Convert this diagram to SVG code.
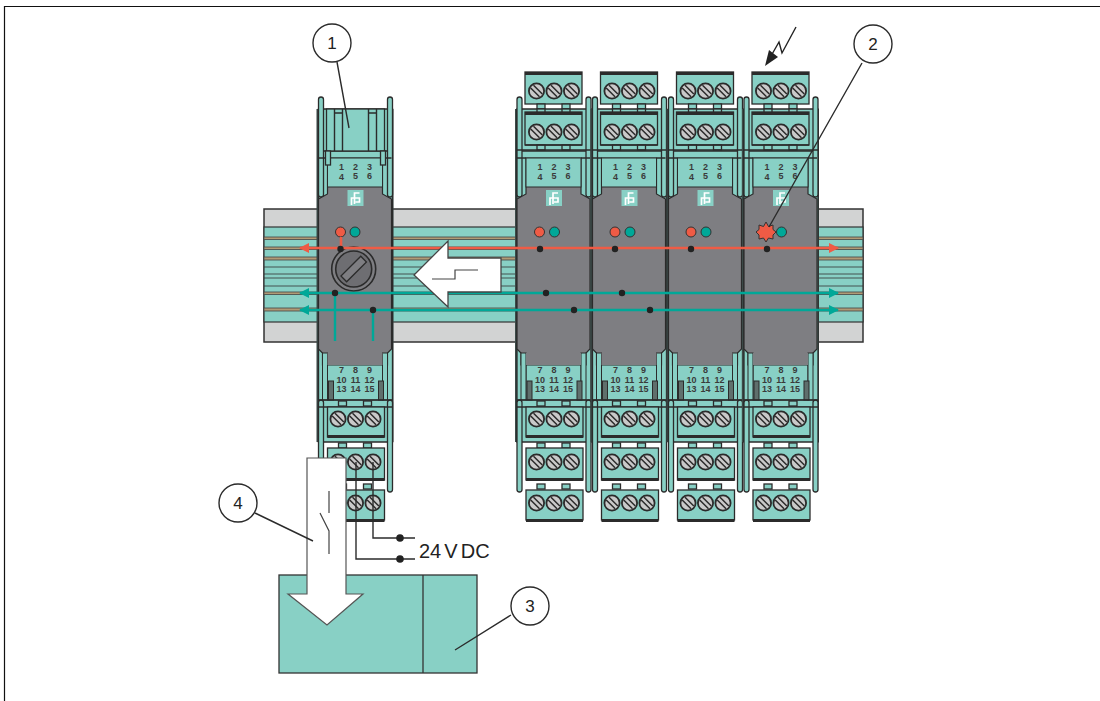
<svg xmlns="http://www.w3.org/2000/svg" width="1100" height="701" viewBox="0 0 1100 701">
<style>
.t{fill:#88d0c5;stroke:#2b2b2b;stroke-width:1.3}
.d{fill:#2b2b2b}
.e{fill:#3c4a48}
.l{fill:none;stroke:#2b2b2b;stroke-width:1.4}
.n{font-family:"Liberation Sans",Arial,sans-serif;font-size:9px;font-weight:700;fill:#3a3a3a;text-anchor:middle}
.c{fill:#fff;stroke:#2b2b2b;stroke-width:1.4}
.cn{font-family:"Liberation Sans",Arial,sans-serif;font-size:17px;fill:#222;text-anchor:middle}
.rr{fill:#88d0c5;stroke:#333;stroke-width:1.2}
.br{fill:#b09a76;stroke:#444;stroke-width:.8}
.red{stroke:#ef5b45;stroke-width:2.6;fill:none}
.gr{stroke:#00a898;stroke-width:2.4;fill:none}
.dot{fill:#222}
.sc{fill:#c9c9c9;stroke:#2b2b2b;stroke-width:1.8}
.sl{stroke:#2b2b2b;stroke-width:1.4;fill:none}
</style>
<defs>
<g id="screw">
<circle r="7.600" class="sc"/>
<path d="M-5.800-3 3 5.800M-3-5.800 5.800 3" fill="none" stroke="#2b2b2b" stroke-width="1.500"/>
</g>
<g id="tabs">
<rect x="-17" y="0" width="8" height="5" class="t"/>
<rect x="8" y="0" width="8" height="5" class="t"/>
</g>
<g id="logo">
<rect x="-8" y="0" width="16" height="16" fill="#88d0c5"/>
<path d="M-1 14V3H4M-4 15V8H4V12H0" fill="none" stroke="#fff" stroke-width="1.700"/>
</g>
<marker id="ar" viewBox="0 0 10 10" refX="9" refY="5" markerWidth="10" markerHeight="10" markerUnits="userSpaceOnUse" orient="auto-start-reverse"><path d="M0 0 10 5 0 10Z" fill="#ef5b45"/></marker>
<marker id="ag" viewBox="0 0 10 10" refX="9" refY="5" markerWidth="10" markerHeight="10" markerUnits="userSpaceOnUse" orient="auto-start-reverse"><path d="M0 0 10 5 0 10Z" fill="#00a898"/></marker>
<g id="body">
<rect x="-39" y="109" width="2" height="333" class="e"/>
<rect x="36" y="109" width="2" height="333" class="e"/>
<path d="M-37 109H37V442H-37Z" class="t"/>
<rect x="-37" y="97" width="5" height="100" rx="2.500" class="t"/>
<rect x="32" y="97" width="5" height="100" rx="2.500" class="t"/>
<rect x="-37" y="400" width="5" height="92" rx="2.500" class="t"/>
<rect x="32" y="400" width="5" height="92" rx="2.500" class="t"/>
<path d="M-28 158H27V194L36 199V349L32 353V365H-33V353L-37 349V199L-28 194Z" fill="#7e7e82" stroke="#2b2b2b" stroke-width="1.200"/>
<rect x="-28" y="158" width="55" height="29" fill="#88d0c5" stroke="#2b2b2b" stroke-width="1"/>
<path class="l" d="M-32 151H32M-37 158H-28M27 158H36"/>
<rect x="-28" y="365" width="55" height="35" fill="#88d0c5" stroke="#2b2b2b" stroke-width="1"/>
<rect x="-33" y="353" width="5" height="47" fill="#88d0c5" stroke="#2b2b2b" stroke-width="1"/>
<rect x="27" y="353" width="5" height="47" fill="#88d0c5" stroke="#2b2b2b" stroke-width="1"/>
<path d="M-33 353H-28V365H27V353H32" fill="#7e7e82"/>
<rect x="-27" y="381" width="5" height="19" fill="#5f6f6c" stroke="#2b2b2b"/>
<rect x="23" y="381" width="5" height="19" fill="#5f6f6c" stroke="#2b2b2b"/>
<g class="n">
<text x="-14" y="170">1</text><text x="0" y="170">2</text><text x="14" y="170">3</text>
<text x="-14" y="180">4</text><text x="0" y="179">5</text><text x="14" y="179">6</text>
<text x="-14" y="373">7</text><text x="0" y="373">8</text><text x="14" y="373">9</text>
<text x="-14" y="383">10</text><text x="0" y="383">11</text><text x="14" y="383">12</text>
<text x="-14" y="392">13</text><text x="0" y="392">14</text><text x="14" y="392">15</text>
</g>
<use href="#logo" y="190"/>
<path class="l" d="M-37 400H37M-37 407H37"/>
<use href="#tabs" y="401"/>
<rect x="-28" y="407" width="57" height="30" class="t"/>
<rect x="-28" y="435" width="57" height="3" class="d"/>
<use href="#screw" x="-17.500" y="419"/><use href="#screw" y="419"/><use href="#screw" x="17.500" y="419"/>
<use href="#tabs" y="443"/>
<rect x="-28" y="448" width="57" height="32" class="t"/>
<rect x="-28" y="478" width="57" height="3" class="d"/>
<use href="#screw" x="-17.500" y="462"/><use href="#screw" y="462"/><use href="#screw" x="17.500" y="462"/>
</g>
<g id="upper">
<use href="#tabs" y="109"/>
<rect x="-29" y="112" width="57" height="33" class="t"/>
<rect x="-29" y="112" width="57" height="3" class="d"/>
<use href="#screw" x="-17.500" y="132"/><use href="#screw" y="132"/><use href="#screw" x="17.500" y="132"/>
<use href="#tabs" y="145"/>
<path class="l" d="M-29 145H28M-37 150H37"/>
</g>
<g id="cap">
<rect x="-29" y="72" width="57" height="32" class="t"/>
<rect x="-29" y="72" width="57" height="3" class="d"/>
<use href="#screw" x="-17.500" y="91"/><use href="#screw" y="91"/><use href="#screw" x="17.500" y="91"/>
<use href="#tabs" y="104"/>
</g>
<g id="bottom">
<use href="#tabs" y="484"/>
<rect x="-28" y="490" width="57" height="30" class="t"/>
<rect x="-28" y="519" width="57" height="3" class="d"/>
<use href="#screw" x="-17.500" y="503"/><use href="#screw" y="503"/><use href="#screw" x="17.500" y="503"/>
</g>
</defs>
<rect width="1100" height="701" fill="#fff"/>
<path d="M4.500 701V6.500H1100" fill="none" stroke="#111" stroke-width="1.200"/>
<g id="rail">
<rect x="264" y="209" width="599" height="133" fill="#d2d3d3" stroke="#333" stroke-width="1.500"/>
<rect x="264" y="227" width="599" height="95" class="rr"/>
<rect x="264" y="237" width="599" height="2.500" class="br"/>
<rect x="264" y="247" width="599" height="2.500" class="br"/>
<rect x="264" y="257" width="599" height="3" class="br"/>
<path d="M264 267H863M264 274H863M264 278H863M264 286H863" stroke="#333" stroke-width=".8"/>
<rect x="264" y="292" width="599" height="2.500" class="br"/>
<rect x="264" y="308" width="599" height="3" class="br"/>
</g>
<g id="module-1">
<g transform="translate(355.500 0)">
<use href="#body"/>
<rect x="-29" y="109" width="58" height="42" class="t"/>
<path class="l" d="M-21 109V151M-13 109V151M13 109V151M21 151V109M-21 113H-13M13 113H21"/>
<rect x="-30" y="151" width="5" height="14" class="t"/><rect x="25" y="151" width="5" height="14" class="t"/>
<use href="#bottom"/>
</g>
<circle cx="340.500" cy="232" r="5" fill="#ef5b45" stroke="#333"/>
<circle cx="355" cy="232" r="5" fill="#00a898" stroke="#333"/>
<circle cx="353.700" cy="269" r="22" fill="#7e7e82" stroke="#2b2b2b" stroke-width="1.600"/>
<circle cx="353.700" cy="269" r="18" fill="#6e6e72" stroke="#2b2b2b" stroke-width="1.600"/>
<rect x="339.700" y="265" width="28" height="8" fill="#7e7e82" stroke="#2b2b2b" stroke-width="1.300" transform="rotate(-45 353.700 269)"/>
</g>
<g id="module-2" transform="translate(554 0)"><use href="#cap"/><use href="#body"/><use href="#upper"/><use href="#bottom"/></g>
<g id="module-3" transform="translate(629.500 0)"><use href="#cap"/><use href="#body"/><use href="#upper"/><use href="#bottom"/></g>
<g id="module-4" transform="translate(705.500 0)"><use href="#cap"/><use href="#body"/><use href="#upper"/><use href="#bottom"/></g>
<g id="module-5" transform="translate(781 0)"><use href="#cap"/><use href="#body"/><use href="#upper"/><use href="#bottom"/></g>
<g id="leds">
<g fill="#ef5b45" stroke="#333"><circle cx="539.500" cy="232" r="5"/><circle cx="615" cy="232" r="5"/><circle cx="691" cy="232" r="5"/></g>
<g fill="#00a898" stroke="#333"><circle cx="554.500" cy="232" r="5"/><circle cx="630" cy="232" r="5"/><circle cx="706" cy="232" r="5"/><circle cx="781.500" cy="232" r="5"/></g>
<polygon points="766,222 768.500,226.500 773,225 773,229.500 776,232 773,235 773,239 768.500,238 766,242 763.500,238 759,239 759,235 756,232 759,229.500 759,225 763.500,226.500" fill="#ef5b45" stroke="#333"/>
</g>
<g id="connectors">
<path class="red" d="M341 237V249"/>
<path d="M300 248H838" class="red" marker-start="url(#ar)" marker-end="url(#ar)"/>
<path d="M300 293H838" class="gr" marker-start="url(#ag)" marker-end="url(#ag)"/>
<path d="M300 310H838" class="gr" marker-start="url(#ag)" marker-end="url(#ag)"/>
<path class="gr" d="M335 293V341M373 310V341"/>
<path class="sl" d="M356 462V559H415M373 462V538H415"/>
</g>
<g id="dots" class="dot">
<circle cx="340.500" cy="249" r="3.200"/><circle cx="540" cy="249" r="3.200"/><circle cx="615" cy="249" r="3.200"/><circle cx="691" cy="249" r="3.200"/><circle cx="767" cy="249" r="3.200"/>
<circle cx="335" cy="293" r="3.200"/><circle cx="546" cy="293" r="3.200"/><circle cx="622" cy="293" r="3.200"/>
<circle cx="373" cy="310" r="3.200"/><circle cx="574" cy="310" r="3.200"/><circle cx="650" cy="310" r="3.200"/>
<circle cx="400" cy="538" r="3.800"/><circle cx="400" cy="559" r="3.800"/>
</g>
<g id="flow-arrow">
<polygon points="414,275 448,241 448,258 501,258 501,292 448,292 448,307" fill="#fff" stroke="#444" stroke-width="1.300"/>
<path d="M432 279H455V270H478" fill="none" stroke="#444" stroke-width="1.200"/>
</g>
<g id="lightning">
<path d="M796 27 782 53 779 42 771 56" fill="none" stroke="#222" stroke-width="1.400"/>
<polygon points="765,66 769,50 778,57" fill="#222"/>
</g>
<g id="actuator">
<rect x="279" y="575" width="198" height="98" fill="#88d0c5" stroke="#333" stroke-width="1.300"/>
<path d="M423 575V673" stroke="#333" stroke-width="1.300"/>
</g>
<g id="switch-arrow">
<polygon points="307,458 346,458 346,594 363,594 327,625 288,594 307,594" fill="#fff" stroke="#555" stroke-width="1.200"/>
<path d="M329 491V513M320 513 329 531V554" fill="none" stroke="#444" stroke-width="1.200"/>
</g>
<g id="leaders">
<path class="sl" d="M337 62 349 128M862 63 769 227M511 615 455 650M255 513 313 541"/>
</g>
<g id="callouts">
<g id="callout-1"><circle cx="332" cy="43" r="19" class="c"/><text x="332" y="49" class="cn">1</text></g>
<g id="callout-2"><circle cx="873" cy="44" r="19" class="c"/><text x="873" y="50" class="cn">2</text></g>
<g id="callout-3"><circle cx="530" cy="606" r="19" class="c"/><text x="530" y="612" class="cn">3</text></g>
<g id="callout-4"><circle cx="238" cy="503" r="19" class="c"/><text x="238" y="509" class="cn">4</text></g>
</g>
<text x="419" y="558" font-family="'Liberation Sans',Arial,sans-serif" font-size="20" word-spacing="-2.500" fill="#222">24 V DC</text>
</svg>
